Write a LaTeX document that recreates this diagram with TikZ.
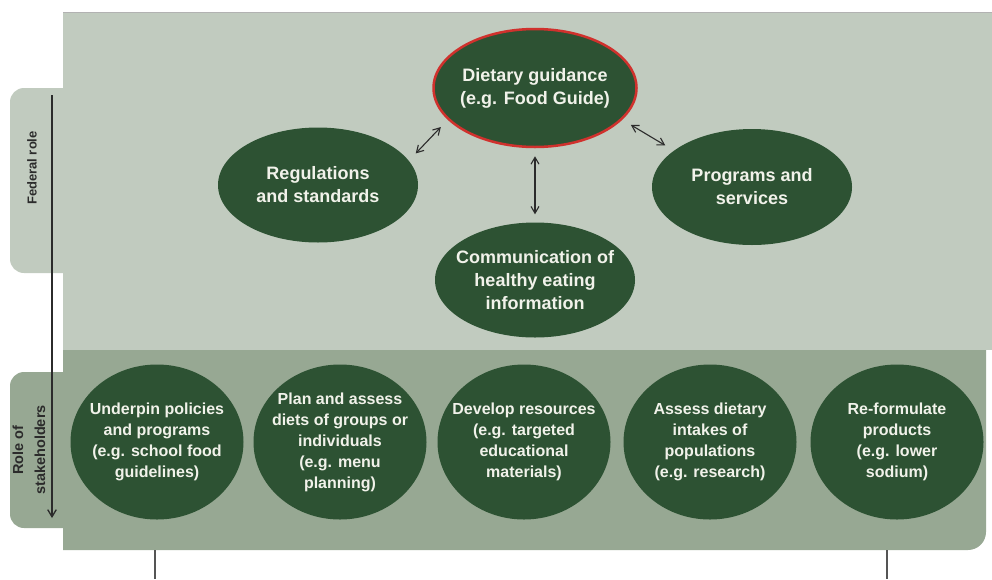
\documentclass[tikz,border=0pt]{standalone}
\usepackage{fontspec}
\setmainfont{Liberation Sans}
\usetikzlibrary{shapes.geometric, arrows.meta, positioning}
\definecolor{fedpanel}{HTML}{C1CBBF}
\definecolor{stakepanel}{HTML}{97A893}
\definecolor{leafgreen}{HTML}{2D5233}
\definecolor{guidered}{HTML}{D0312D}
\definecolor{labeltext}{HTML}{F1F2EA}
\definecolor{linegray}{HTML}{2B2B2B}

\begin{document}
\begin{tikzpicture}[x=1pt, y=-1pt,
    role/.style={ellipse, fill=leafgreen, text=labeltext, align=center, inner sep=-15pt,
        font=\bfseries\fontsize{18}{23}\selectfont, minimum width=200pt, minimum height=115pt},
    task/.style={role, font=\bfseries\fontsize{16}{21}\selectfont, minimum width=173pt, minimum height=155pt},
    link/.style={{Straight Barb[length=2.4mm,width=2.8mm]}-{Straight Barb[length=2.4mm,width=2.8mm]}, color=linegray, line width=1.1pt, shorten <=10pt, shorten >=10pt},
    tab/.style={font=\bfseries\fontsize{13}{21}\selectfont, color=linegray, rotate=90, align=center}
]
\useasboundingbox (0,0) rectangle (992,579);

% Panels and side tabs
\fill[fedpanel, rounded corners=14pt] (10,88) rectangle (80,273);
\fill[stakepanel, rounded corners=14pt] (10,372) rectangle (80,528);
\fill[fedpanel] (63,12) rectangle (992,350);
\draw[color=black!30, line width=1pt] (63,12.5) -- (992,12.5);
\fill[stakepanel] (63,350) -- (986,350) [rounded corners=18pt] -- (986,550) [sharp corners] -- (63,550) -- cycle;

\node[tab] (fedtab) at (32,168) {Federal role};
\node[tab, font=\bfseries\fontsize{14.5}{22}\selectfont] (staketab) at (29,450) {Role of\\stakeholders};

% Axis down the side
\coordinate (axtop) at (52,95);
\coordinate (axbot) at (52,518);
\draw[-{Straight Barb[length=2.5mm,width=3mm]}, color=linegray, line width=1.3pt] (axtop) -- (axbot);

% Federal role
\node[role, draw=guidered, line width=2.5pt, minimum width=203pt, minimum height=118pt] (diet) at (535,88) {Dietary guidance\\(e.g. Food Guide)};
\node[role] (regs) at (318,185) {Regulations\\and standards};
\node[role, minimum height=116pt] (progs) at (752,187) {Programs and\\services};
\node[role] (comm) at (535,280) {Communication of\\healthy eating\\information};

\draw[link] (regs.15) -- (diet.200);
\draw[link] (diet.340) -- (progs.155);
\draw[link, shorten <=8pt, shorten >=8pt] (diet.south) -- (comm.north);

% Role of stakeholders
\foreach \i/\x/\txt in {1/157/{Underpin policies\\and programs\\(e.g. school food\\guidelines)},
    2/340/{Plan and assess\\diets of groups or\\individuals\\(e.g. menu\\planning)},
    3/524/{Develop resources\\(e.g. targeted\\educational\\materials)},
    4/710/{Assess dietary\\intakes of\\populations\\(e.g. research)},
    5/897/{Re-formulate\\products\\(e.g. lower\\sodium)}} {
    \node[task] (task\i) at (\x,442) {\txt};
}

% Lines below the panel
\coordinate (legl) at (155,550);
\coordinate (legr) at (887,550);
\coordinate (legl') at (155,579);
\coordinate (legr') at (887,579);
\draw[color=linegray!80, line width=1.2pt] (legl) -- (legl');
\draw[color=linegray!80, line width=1.2pt] (legr) -- (legr');

\end{tikzpicture}
\end{document}
